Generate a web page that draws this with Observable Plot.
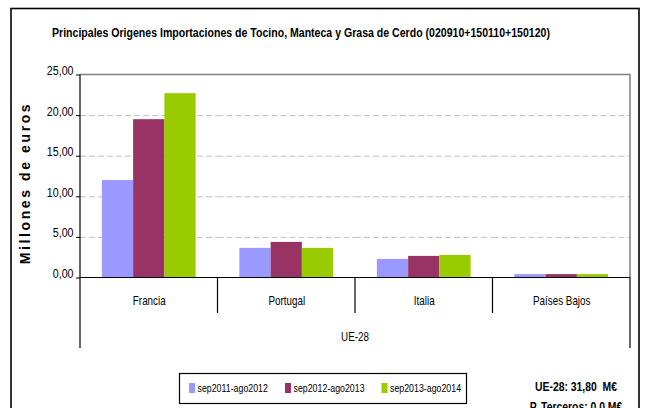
<!DOCTYPE html>
<html><head><meta charset="utf-8">
<script src="https://cdn.jsdelivr.net/npm/d3@7"></script>
<script src="https://cdn.jsdelivr.net/npm/@observablehq/plot@0.6"></script>
<style>body{margin:0;background:#fff} svg{display:block}</style>
</head><body><div id="chart"></div>
<script>
const categories = ["Francia", "Portugal", "Italia", "Países Bajos"];
const seriesNames = ["sep2011-ago2012", "sep2012-ago2013", "sep2013-ago2014"];
const values2011 = [12.0, 3.65, 2.29, 0.42];
const values2012 = [19.5, 4.38, 2.66, 0.42];
const values2013 = [22.7, 3.65, 2.78, 0.42];
const yTicks = [0, 5, 10, 15, 20, 25];
const colors = ["#9999FF", "#993366", "#99CC00"];
const titleText = "Principales Origenes Importaciones de Tocino, Manteca y Grasa de Cerdo (020910+150110+150120)";
const groupLabel = "UE-28";
const yLabel = "Millones de euros";
const notes = ["UE-28: 31,80  M€", "P. Terceros: 0,0 M€"];

const allValues = [values2011, values2012, values2013];
const data = categories.flatMap((c, i) => seriesNames.map((s, j) => ({category: c, series: s, value: allValues[j][i]})));

const font = "'Liberation Sans',Arial,sans-serif";
const K = 0.82; // horizontal compression to mimic a narrow face
const fmt = d => d3.format(".2f")(d).replace(".", ",");

const W = 645, H = 408, mT = 74.5, mL = 80, mR = 15, plotBottom = 277.5;

const plot = Plot.plot({
  width: W, height: H,
  marginTop: mT, marginLeft: mL, marginRight: mR, marginBottom: H - plotBottom,
  style: {fontFamily: font, fontSize: "12px", background: "#fff", color: "#000"},
  fx: {domain: categories, padding: 0, round: false, label: null},
  x: {domain: seriesNames, paddingInner: 0, paddingOuter: 0.7, round: false, axis: null},
  y: {domain: [0, 25], label: null},
  color: {domain: seriesNames, range: colors},
  marks: [
    Plot.gridY(yTicks.filter(d => d > 0 && d < 25), {stroke: "#c0c0c0", strokeOpacity: 1, strokeDasharray: "6,3"}),
    Plot.barY(data, {fx: "category", x: "series", y: "value", fill: "series"}),
    Plot.axisY({ticks: yTicks, tickFormat: fmt, tickSize: 4, tickPadding: 3, fontSize: 13, label: null}),
    Plot.axisFx({anchor: "bottom", tickSize: 0, tickPadding: 27, fontSize: 12, label: null})
  ]
});
document.getElementById("chart").appendChild(plot);

function narrow(el, k) {
  const x = +el.getAttribute("x") || 0, y = +el.getAttribute("y") || 0;
  el.removeAttribute("x"); el.removeAttribute("y");
  const tr = el.getAttribute("transform") || "";
  el.setAttribute("transform", `${tr} translate(${x},${y}) scale(${k},1)`);
}
plot.querySelectorAll("g[aria-label$='tick label'] text").forEach(el => narrow(el, K));

const svg = d3.select(plot);
const fx = plot.scale("fx");
const y = plot.scale("y");
const left = mL, right = W - mR;
const y0 = y.apply(0), yTop = y.apply(25);

const g = svg.append("g").attr("fill", "none");
g.append("path").attr("d", `M${left},${yTop}H${right}V${y0}`).attr("stroke", "#808080").attr("stroke-width", 1.5);
g.append("line").attr("x1", left).attr("x2", left).attr("y1", yTop).attr("y2", 348).attr("stroke", "#000").attr("stroke-width", 1.2);
g.append("line").attr("x1", left).attr("x2", right).attr("y1", y0).attr("y2", y0).attr("stroke", "#000").attr("stroke-width", 1.2);
g.append("line").attr("x1", right).attr("x2", right).attr("y1", y0).attr("y2", 348).attr("stroke", "#000").attr("stroke-width", 1.2);
categories.slice(1).forEach(c => {
  const xs = fx.apply(c);
  g.append("line").attr("x1", xs).attr("x2", xs).attr("y1", y0).attr("y2", 313).attr("stroke", "#000").attr("stroke-width", 1.2);
});
g.append("rect").attr("x", 11).attr("y", 8.5).attr("width", 628).attr("height", 420).attr("stroke", "#000").attr("stroke-width", 1.6);

const t = svg.append("g").attr("font-family", font).attr("fill", "#000").attr("text-anchor", "start");
t.append("text").attr("x", 52).attr("y", 37).attr("font-size", 13.5).attr("font-weight", "bold")
  .attr("textLength", 498).attr("lengthAdjust", "spacingAndGlyphs").text(titleText);
t.append("text").attr("transform", `translate(30,183) rotate(-90)`).attr("text-anchor", "middle")
  .attr("font-size", 14).attr("font-weight", "bold").attr("letter-spacing", "2.6px").text(yLabel);
t.append("text").attr("transform", `translate(${(left + right) / 2},341) scale(${K},1)`).attr("text-anchor", "middle")
  .attr("font-size", 12).text(groupLabel);

const lg = svg.append("g").attr("font-family", font).attr("text-anchor", "start");
lg.append("rect").attr("x", 179.5).attr("y", 373.5).attr("width", 287).attr("height", 30).attr("fill", "#fff").attr("stroke", "#000").attr("stroke-width", 1.2);
const legendX = [189, 285, 381.5];
seriesNames.forEach((s, i) => {
  lg.append("rect").attr("x", legendX[i]).attr("y", 383).attr("width", 6).attr("height", 10).attr("fill", colors[i]);
  lg.append("text").attr("transform", `translate(${legendX[i] + 8.5},392) scale(0.76,1)`).attr("font-size", 11.6).text(s);
});

notes.forEach((n, i) => {
  t.append("text").attr("transform", `translate(576,${390.5 + i * 20}) scale(0.77,1)`).attr("text-anchor", "middle")
    .attr("font-size", 13.5).attr("font-weight", "bold").text(n);
});
</script>
</body></html>
